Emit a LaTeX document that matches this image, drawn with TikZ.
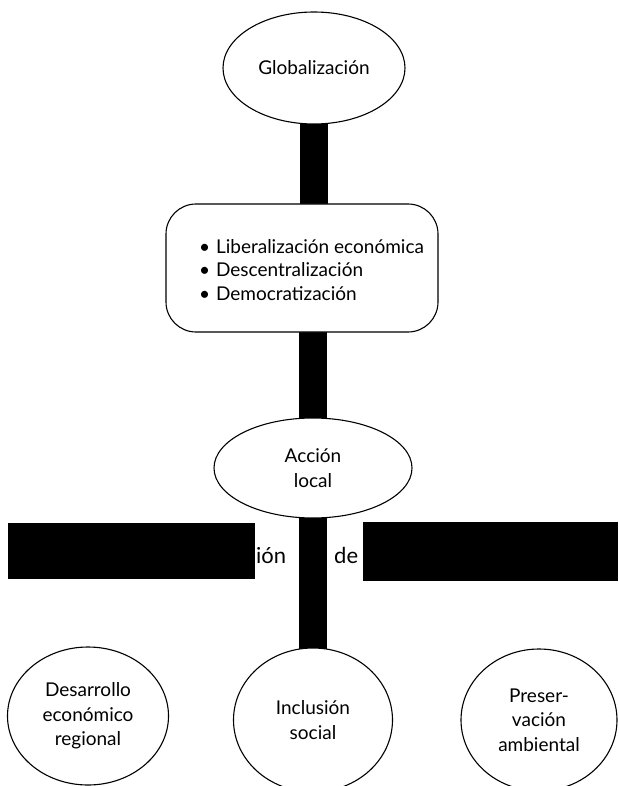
\documentclass[tikz,border=0pt]{standalone}
\usepackage{fontspec}
\setmainfont{Lato}
\usetikzlibrary{shapes.geometric,backgrounds}
\begin{document}
\begin{tikzpicture}[x=1pt,y=-1pt,
  oval/.style={ellipse,draw,line width=1.1pt,fill=white,inner sep=0pt,align=center,font=\fontsize{19}{24.5}\selectfont},
  roundbox/.style={draw,line width=1.1pt,fill=white,rounded corners=30pt,inner sep=0pt},
  bar/.style={line width=28pt,draw=black},
  blk/.style={fill=black,inner sep=0pt,draw=none},
  lbl/.style={font=\fontsize{19}{23.5}\selectfont,align=left,inner sep=0pt},
  bandtext/.style={font=\fontsize{22}{26}\selectfont,anchor=base west,inner sep=0pt}]
\useasboundingbox (0,0) rectangle (618,786);
\clip (0,0) rectangle (618,786);
% nodes
\node[oval,minimum width=182pt,minimum height=112pt] (glob) at (314,68) {Globalización};
\node[roundbox,minimum width=272pt,minimum height=128pt] (box) at (302,268) {};
\node[lbl] (boxtxt) at (311.5,270) {\textbullet\hspace{6pt}Liberalización económica\\ \textbullet\hspace{6pt}Descentralización\\ \textbullet\hspace{6pt}Democratización};
\node[oval,minimum width=198pt,minimum height=100pt] (acc) at (313,468) {Acción\\local};
\node[oval,minimum width=161pt,minimum height=138pt] (des) at (88,716) {Desarrollo\\económico\\regional};
\node[oval,minimum width=159pt,minimum height=144pt] (inc) at (313,720) {Inclusión\\social};
\node[oval,minimum width=156pt,minimum height=142pt] (pre) at (539,720) {Preser-\\vación\\ambiental};
% band
\node[blk,minimum width=247pt,minimum height=56pt] (bl) at (131.5,551) {};
\node[blk,minimum width=255pt,minimum height=59pt] (br) at (490.5,551.5) {};
\node[bandtext] (t1) at (256,563) {ión};
\node[bandtext] (t2) at (334,563) {de};
% bars
\begin{scope}[on background layer]
\draw[bar] (glob.center) -- (glob.center |- box.center);
\draw[bar] (acc.center |- box.center) -- (acc.center);
\draw[bar] (acc.center) -- (inc.center);
\end{scope}
\end{tikzpicture}
\end{document}
